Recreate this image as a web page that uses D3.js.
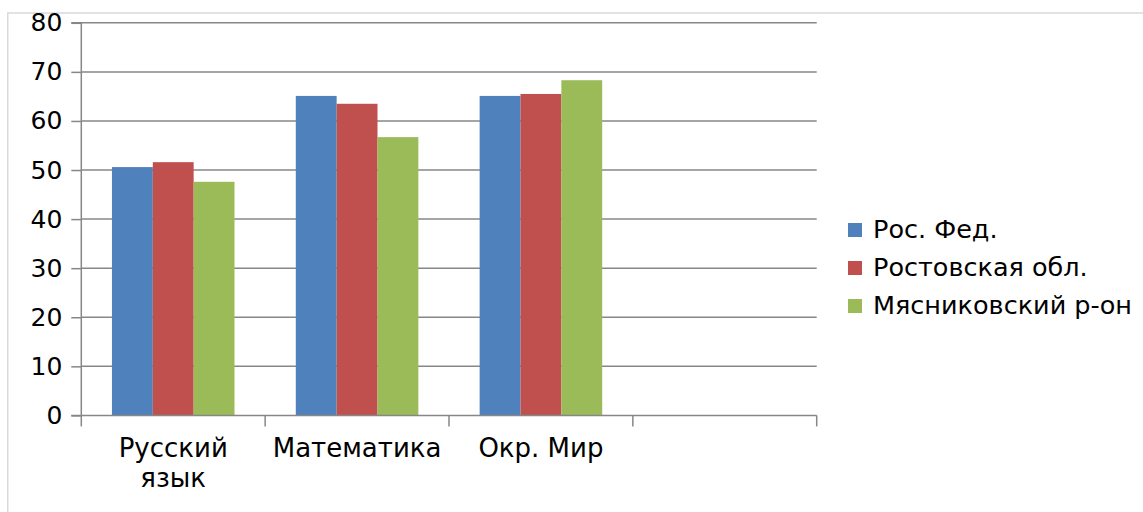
<!DOCTYPE html>
<html>
<head>
<meta charset="utf-8">
<script src="https://cdn.jsdelivr.net/npm/d3@7"></script>
<style>
  html, body { margin: 0; padding: 0; background: #fff; }
  svg { display: block; }
  text { font-family: "DejaVu Sans", sans-serif; fill: #000; }
</style>
</head>
<body>
<svg id="chart" width="1143" height="512"></svg>
<script>
const categories = ["Русский язык", "Математика", "Окр. Мир", ""];
const seriesNames = ["Рос. Фед.", "Ростовская обл.", "Мясниковский р-он"];
const seriesColors = ["#4F81BD", "#C0504D", "#9BBB59"];
const rosFed = [50.6, 65.1, 65.1, null];
const rostovObl = [51.6, 63.5, 65.5, null];
const myasnikovsky = [47.6, 56.7, 68.3, null];
const yTicks = [0, 10, 20, 30, 40, 50, 60, 70, 80];

const seriesValues = [rosFed, rostovObl, myasnikovsky];
const data = categories.map((c, i) => ({
  cat: c,
  vals: seriesNames.map((s, j) => ({ s, j, v: seriesValues[j][i] }))
}));

const svg = d3.select("#chart");
const FS_Y = 25, FS_X = 26, FS_L = 25.5;

// outer chart border
svg.append("rect").attr("x", 7.75).attr("y", 13).attr("width", 1143).attr("height", 520)
  .attr("fill", "none").attr("stroke", "#d9d9d9").attr("stroke-width", 1.5);

const x0 = 81.3, x1end = 816.7, yTop = 22.8, yBot = 415.4;
const y = d3.scaleLinear().domain([0, 80]).range([yBot, yTop]);
const x = d3.scaleBand().domain(categories.map((c, i) => i)).range([x0, x1end]).paddingInner(0).paddingOuter(0);
const bw = x.bandwidth();
const barW = bw / 4.5;
const xs = d3.scaleBand().domain(seriesNames).range([barW * 0.75, bw - barW * 0.75]).padding(0);

// gridlines
svg.append("g").selectAll("line").data(yTicks.filter(t => t > 0)).join("line")
  .attr("x1", x0).attr("x2", x1end)
  .attr("y1", d => y(d)).attr("y2", d => y(d))
  .attr("stroke", "#878787").attr("stroke-width", 1.5);

// bars
const g = svg.append("g");
g.selectAll("g").data(data).join("g")
  .attr("transform", (d, i) => `translate(${x(i)},0)`)
  .selectAll("rect").data(d => d.vals.filter(v => v.v != null)).join("rect")
  .attr("x", d => xs(d.s)).attr("width", xs.bandwidth())
  .attr("y", d => y(d.v)).attr("height", d => y(0) - y(d.v))
  .attr("fill", d => seriesColors[d.j]);

// y axis
const yAxis = d3.axisLeft(y).tickValues(yTicks).tickSize(10).tickPadding(9).tickFormat(d3.format("d"));
const ya = svg.append("g").attr("transform", `translate(${x0},0)`).call(yAxis);
ya.select(".domain").attr("stroke", "#878787").attr("stroke-width", 1.5).attr("d", `M-10,${yTop}H0V${yBot}H-10`);
ya.selectAll(".tick line").attr("stroke", "#878787").attr("stroke-width", 1.5);
ya.selectAll(".tick text").style("font-size", FS_Y + "px").style("font-family", "DejaVu Sans").attr("fill", "#000");

// x axis
const xBounds = d3.range(categories.length + 1).map(i => x0 + i * bw);
svg.append("line").attr("x1", x0).attr("x2", x1end).attr("y1", yBot).attr("y2", yBot)
  .attr("stroke", "#878787").attr("stroke-width", 1.5);
svg.append("g").selectAll("line").data(xBounds).join("line")
  .attr("x1", d => d).attr("x2", d => d).attr("y1", yBot).attr("y2", yBot + 11)
  .attr("stroke", "#878787").attr("stroke-width", 1.5);

// category labels with wrapping
const maxW = bw * 0.8;
const labels = svg.append("g").selectAll("text").data(data).join("text")
  .attr("x", (d, i) => x(i) + bw / 2).attr("y", 457)
  .attr("text-anchor", "middle").style("font-size", FS_X + "px");
labels.each(function(d) {
  const t = d3.select(this);
  const words = d.cat.split(" ").filter(w => w);
  let line = [];
  let tspan = t.append("tspan").attr("x", t.attr("x")).attr("dy", 0);
  words.forEach(w => {
    line.push(w);
    tspan.text(line.join(" "));
    if (tspan.node().getComputedTextLength() > maxW && line.length > 1) {
      line.pop();
      tspan.text(line.join(" "));
      line = [w];
      tspan = t.append("tspan").attr("x", t.attr("x")).attr("dy", 30).text(w);
    }
  });
});

// legend
const leg = svg.append("g").selectAll("g").data(seriesNames).join("g")
  .attr("transform", (d, i) => `translate(848,${229 + i * 38})`);
leg.append("rect").attr("x", 0).attr("y", -6).attr("width", 14).attr("height", 14)
  .attr("fill", (d, i) => seriesColors[i]);
leg.append("text").attr("x", 25).attr("y", 0).attr("dy", "0.35em")
  .style("font-size", FS_L + "px").text(d => d);
</script>
</body>
</html>
